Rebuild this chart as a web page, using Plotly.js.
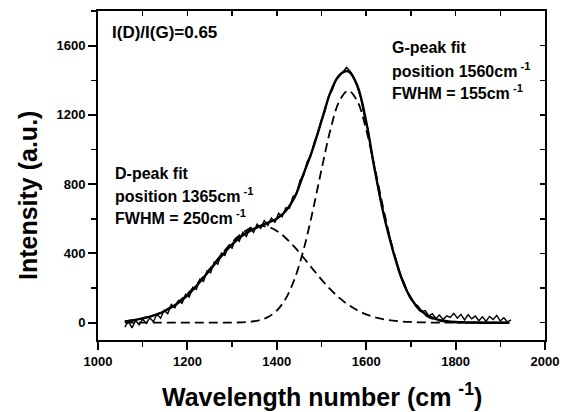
<!DOCTYPE html>
<html>
<head>
<meta charset="utf-8">
<script src="https://cdn.plot.ly/plotly-3.0.1.min.js"></script>
<style>html,body{margin:0;padding:0;background:#fff;}#chart{width:565px;height:412px;}</style>
</head>
<body>
<div id="chart"></div>
<script>
var dataX = [1060,1068,1076,1084,1092,1100,1108,1116,1124,1132,1140,1148,1156,1164,1172,1180,1188,1196,1204,1212,1220,1228,1236,1244,1252,1260,1268,1276,1284,1292,1300,1308,1316,1324,1332,1340,1348,1356,1364,1372,1380,1388,1396,1404,1412,1420,1428,1436,1444,1452,1460,1468,1476,1484,1492,1500,1508,1516,1524,1532,1540,1548,1556,1564,1572,1580,1588,1596,1604,1612,1620,1628,1636,1644,1652,1660,1668,1676,1684,1692,1700,1708,1716,1724,1732,1740,1748,1756,1764,1772,1780,1788,1796,1804,1812,1820,1828,1836,1844,1852,1860,1868,1876,1884,1892,1900,1908,1916,1924];
var dataY = [-25,8,-30,12,-12,20,-4,28,6,50,26,72,52,105,86,128,112,165,148,205,192,252,238,300,288,350,338,402,388,445,430,488,470,522,498,548,522,570,544,590,562,604,578,632,612,664,660,728,742,822,852,930,962,1045,1092,1175,1222,1310,1342,1402,1422,1452,1475,1452,1418,1362,1298,1192,1112,978,882,758,672,568,502,408,356,278,236,180,148,110,96,64,70,38,52,24,44,18,40,30,54,26,48,16,46,22,38,12,34,8,36,18,42,10,28,4,16];

// Fit curves
var fitX = [1060,1080,1100,1120,1140,1160,1180,1200,1220,1240,1260,1280,1300,1320,1340,1360,1380,1400,1420,1440,1460,1480,1500,1520,1540,1560,1580,1600,1620,1640,1660,1680,1700,1720,1740,1760,1780,1800,1820,1840,1860,1880,1900,1920];
var totalFit = [6,14,25,38,56,82,115,158,212,272,335,396,452,498,530,555,578,600,645,725,860,1000,1165,1330,1430,1452,1370,1160,870,615,415,250,140,75,38,18,9,4,2,1,0,0,0,0];
var dPeak = [9,15,25,39,59,86,122,167,220,279,343,406,464,512,545,559,554,530,489,436,375,311,249,192,143,103,72,48,31,19,12,7,4,2,1,0.5,0.2,0,0,0,0,0,0,0];
var gPeak = [0,0,0,0,0,0,0,0,0,0,0,0,0.5,1.7,5,13,32,70,139,254,422,640,884,1114,1280,1340,1280,1114,884,640,422,254,139,70,32,13,5,1.7,0.5,0,0,0,0,0];

// Tick values and labels
var xTickVals = [1000,1200,1400,1600,1800,2000];
var xTickText = ['1000','1200','1400','1600','1800','2000'];
var yTickVals = [0,400,800,1200,1600];
var yTickText = ['0','400','800','1200','1600'];
var topTickVals = [1000,1100,1200,1300,1400,1500,1600,1700,1800,1900,2000];
var rightTickVals = [0,200,400,600,800,1000,1200,1400,1600];

var FONT = '"Liberation Sans", Arial, sans-serif';
function bold(a) { return a.map(function (t) { return '<b>' + t + '</b>'; }); }

var traces = [
  {x: dataX, y: dataY, type: 'scatter', mode: 'lines', line: {color: '#000', width: 1.4}},
  {x: fitX, y: totalFit, type: 'scatter', mode: 'lines', line: {color: '#000', width: 2.4, shape: 'spline'}},
  {x: fitX, y: dPeak, type: 'scatter', mode: 'lines', line: {color: '#000', width: 1.8, dash: '9px,5px', shape: 'spline'}},
  {x: fitX, y: gPeak, type: 'scatter', mode: 'lines', line: {color: '#000', width: 1.8, dash: '9px,5px', shape: 'spline'}},
  {x: [1500], y: [800], xaxis: 'x2', yaxis: 'y2', type: 'scatter', mode: 'markers', marker: {opacity: 0}}
];

function ann(text, x, y, size) {
  return {text: '<b>' + text + '</b>', x: x, y: y, xref: 'x', yref: 'y', xanchor: 'left', yanchor: 'middle', showarrow: false,
          font: {family: FONT, size: size || 16, color: '#000'}};
}

var tickFont = {family: FONT, size: 13, color: '#000', weight: 700};

var layout = {
  width: 565, height: 412,
  margin: {l: 98, r: 20, t: 11, b: 72},
  showlegend: false,
  xaxis: {
    range: [1000, 2000], tickvals: xTickVals, ticktext: bold(xTickText), ticks: 'outside', ticklen: 8, tickwidth: 2,
    showline: true, linewidth: 2, linecolor: '#000', tickcolor: '#000', showgrid: false, zeroline: false, tickfont: tickFont,
    minor: {dtick: 100, tick0: 1000, ticks: 'outside', ticklen: 5, tickwidth: 1.5, tickcolor: '#000', showgrid: false}
  },
  yaxis: {
    range: [-100, 1800], tickvals: yTickVals, ticktext: bold(yTickText), ticks: 'outside', ticklen: 8, tickwidth: 2,
    showline: true, linewidth: 2, linecolor: '#000', tickcolor: '#000', showgrid: false, zeroline: false, tickfont: tickFont,
    minor: {dtick: 200, tick0: 0, ticks: 'outside', ticklen: 5, tickwidth: 1.5, tickcolor: '#000', showgrid: false}
  },
  xaxis2: {
    overlaying: 'x', anchor: 'y2', side: 'top', range: [1000, 2000], tickmode: 'array', tickvals: topTickVals,
    ticks: 'inside', ticklen: 5, tickwidth: 1.5, tickcolor: '#000', showticklabels: false,
    showline: true, linewidth: 2, linecolor: '#000', showgrid: false, zeroline: false
  },
  yaxis2: {
    overlaying: 'y', anchor: 'x2', side: 'right', range: [-100, 1800], tickmode: 'array', tickvals: rightTickVals,
    ticks: 'inside', ticklen: 5, tickwidth: 1.5, tickcolor: '#000', showticklabels: false,
    showline: true, linewidth: 2, linecolor: '#000', showgrid: false, zeroline: false
  }
};

var annotations = [
  ann('I(D)/I(G)=0.65', 1027, 1673, 17),
  ann('G-peak fit', 1653, 1592),
  ann('position 1560cm<sup> -1</sup>', 1653, 1460),
  ann('FWHM = 155cm<sup> -1</sup>', 1653, 1333),
  ann('D-peak fit', 1034, 860),
  ann('position 1365cm<sup> -1</sup>', 1034, 739),
  ann('FWHM = 250cm<sup> -1</sup>', 1034, 612),
  {text: '<b>Intensity (a.u.)</b>', xref: 'paper', yref: 'paper', x: -0.157, y: 0.44, xanchor: 'center', yanchor: 'middle',
   textangle: -90, showarrow: false, font: {family: FONT, size: 25, color: '#000'}},
  {text: '<b>Wavelength number (cm <sup>-1</sup>)</b>', xref: 'paper', yref: 'paper', x: 0.5, y: -0.166, xanchor: 'center', yanchor: 'middle',
   showarrow: false, font: {family: FONT, size: 25, color: '#000'}}
];

// draw axes and curves first, then add the texts
Plotly.newPlot('chart', traces, layout, {displayModeBar: false, staticPlot: true}).then(function (gd) {
  return Plotly.relayout(gd, {annotations: annotations});
});
</script>
</body>
</html>
